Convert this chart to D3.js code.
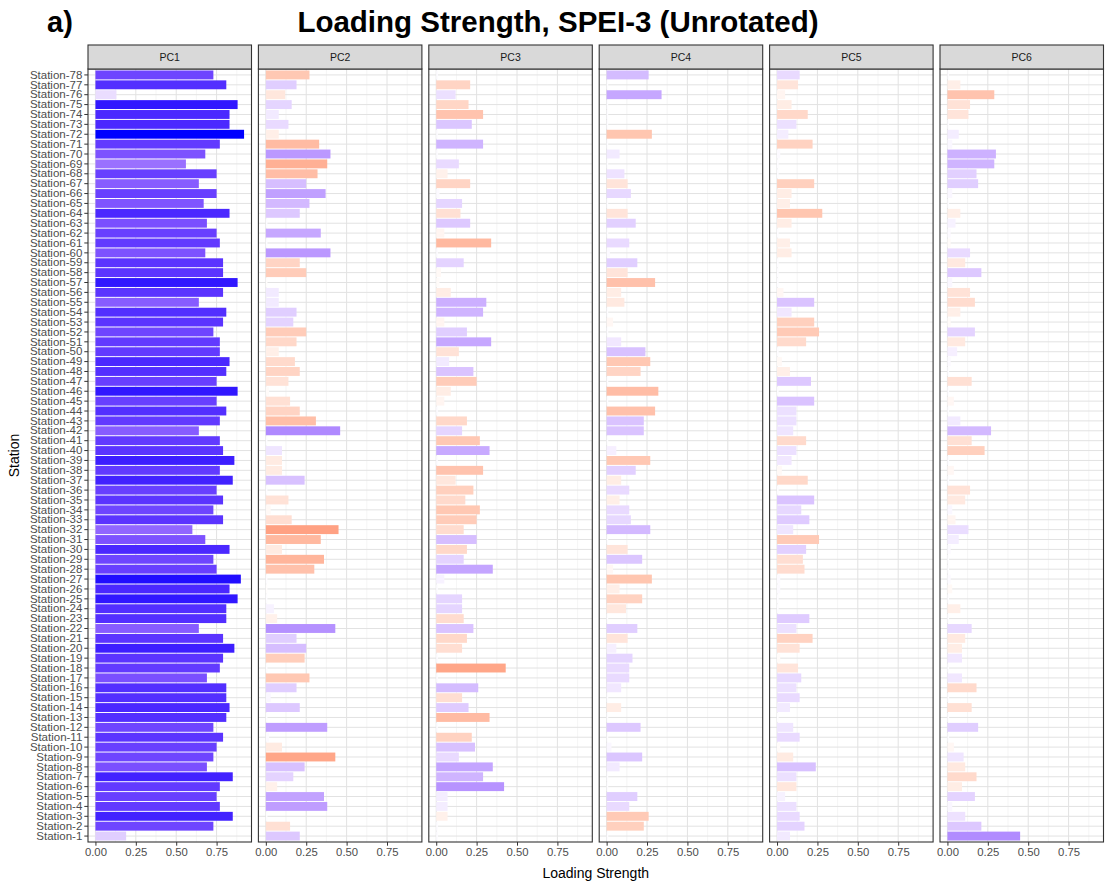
<!DOCTYPE html>
<html>
<head>
<meta charset="utf-8">
<script src="https://cdn.jsdelivr.net/npm/d3@7"></script>
<style>
  body { margin: 0; background: #fff; }
  svg { display: block; }
  text { font-family: "Liberation Sans", Arial, Helvetica, sans-serif; }
</style>
</head>
<body>
<svg id="chart" width="1107" height="885"></svg>
<script>
// Principal components shown as facets, left to right
const components = ["PC1", "PC2", "PC3", "PC4", "PC5", "PC6"];

// Station names, Station-1 ... Station-78
const stations = d3.range(1, 79).map(i => "Station-" + i);

// Signed loadings per component, ordered Station-1 ... Station-78
const pc1 = [0.19, 0.73, 0.85, 0.77, 0.75, 0.77, 0.85, 0.69, 0.73, 0.75,
             0.79, 0.73, 0.81, 0.83, 0.81, 0.81, 0.69, 0.77, 0.79, 0.86,
             0.79, 0.64, 0.81, 0.81, 0.88, 0.83, 0.90, 0.75, 0.73, 0.83,
             0.68, 0.60, 0.79, 0.73, 0.79, 0.75, 0.85, 0.77, 0.86, 0.79,
             0.77, 0.64, 0.77, 0.81, 0.75, 0.88, 0.75, 0.81, 0.83, 0.77,
             0.77, 0.73, 0.79, 0.81, 0.64, 0.79, 0.88, 0.79, 0.79, 0.68,
             0.77, 0.75, 0.69, 0.83, 0.67, 0.75, 0.64, 0.75, 0.56, 0.68,
             0.77, 0.92, 0.83, 0.83, 0.88, 0.13, 0.81, 0.73];

const pc2 = [0.21, -0.15, 0.01, 0.38, 0.36, -0.07, 0.17, 0.24, -0.43, -0.10,
             0.02, 0.38, 0.01, 0.21, 0.03, 0.19, -0.27, 0.01, -0.24, 0.25,
             0.19, 0.43, -0.07, 0.05, 0.01, -0.01, 0.01, -0.30, -0.36, -0.10,
             -0.34, -0.45, -0.16, -0.03, -0.14, 0.01, 0.24, -0.10, -0.10, 0.10,
             0.01, 0.46, -0.31, -0.21, -0.15, -0.02, -0.14, -0.21, -0.18, -0.08,
             -0.19, -0.25, 0.17, 0.19, 0.08, 0.08, -0.01, -0.25, -0.21, 0.40,
             0.01, 0.34, 0.01, 0.21, 0.27, 0.37, 0.25, -0.32, -0.38, 0.40,
             -0.33, -0.08, 0.14, 0.08, 0.16, -0.12, 0.19, -0.27];

const pc3 = [0.01, 0.01, -0.07, 0.07, 0.07, 0.42, 0.29, 0.35, 0.14, 0.24,
             -0.22, 0.01, -0.33, 0.20, -0.16, 0.26, 0.01, -0.43, 0.01, -0.16,
             -0.19, 0.23, -0.17, 0.16, 0.16, 0.01, 0.05, 0.35, 0.17, -0.19,
             0.25, -0.17, -0.25, -0.27, -0.18, -0.23, -0.12, -0.29, 0.01, 0.33,
             -0.27, 0.16, -0.19, 0.01, -0.05, -0.09, -0.25, 0.23, 0.08, -0.14,
             0.34, 0.19, -0.05, 0.29, 0.31, -0.09, -0.02, -0.03, 0.17, 0.01,
             -0.34, -0.05, 0.21, -0.15, 0.16, 0.02, -0.21, -0.07, 0.14, 0.01,
             0.29, 0.01, 0.22, -0.29, -0.20, 0.12, -0.21, 0.01];

const pc4 = [0.01, -0.23, -0.26, 0.14, 0.19, 0.01, 0.01, 0.08, 0.22, 0.03,
             0.01, 0.21, 0.01, -0.09, 0.01, 0.09, 0.14, 0.14, 0.16, 0.06,
             -0.13, 0.19, 0.01, -0.12, -0.22, -0.08, -0.28, -0.04, 0.22, -0.13,
             0.01, 0.27, 0.15, 0.14, -0.08, 0.14, -0.09, 0.18, -0.27, 0.06,
             0.01, 0.23, 0.23, -0.30, 0.01, -0.32, 0.01, -0.21, -0.27, 0.24,
             0.09, 0.01, -0.04, 0.01, -0.11, -0.09, -0.30, -0.13, 0.19, 0.02,
             0.14, 0.01, 0.18, -0.13, 0.01, 0.15, -0.13, 0.11, 0.01, 0.08,
             0.01, -0.28, 0.01, 0.01, 0.01, 0.34, 0.01, 0.26];

const pc5 = [0.08, 0.17, 0.14, 0.12, 0.05, -0.12, 0.12, 0.24, -0.10, -0.02,
             0.14, 0.10, 0.01, 0.08, 0.14, 0.12, 0.15, -0.13, -0.02, -0.14,
             -0.22, 0.12, 0.20, 0.01, 0.01, 0.02, 0.02, -0.17, -0.16, 0.18,
             -0.26, 0.10, 0.20, 0.15, 0.23, 0.01, -0.19, -0.03, 0.09, 0.12,
             -0.18, 0.10, 0.12, 0.12, 0.23, 0.01, 0.21, -0.08, -0.03, 0.01,
             -0.18, -0.26, -0.23, 0.09, 0.23, -0.04, 0.01, 0.01, 0.01, -0.09,
             -0.08, 0.01, -0.09, -0.28, -0.08, -0.09, -0.23, 0.01, 0.01, 0.02,
             -0.22, 0.07, 0.12, -0.19, -0.09, -0.05, -0.13, 0.14];

const pc6 = [0.45, 0.21, 0.11, 0.03, 0.17, -0.09, -0.18, -0.11, 0.10, -0.04,
             0.01, 0.19, 0.01, -0.15, 0.01, -0.18, 0.09, 0.01, 0.09, -0.09,
             -0.11, 0.15, 0.01, -0.08, 0.01, -0.03, 0.02, 0.01, 0.01, 0.02,
             0.07, 0.13, -0.05, 0.03, -0.11, -0.14, 0.01, -0.04, 0.01, -0.23,
             -0.15, 0.27, 0.08, 0.01, -0.04, 0.01, -0.15, 0.01, 0.02, 0.06,
             -0.11, 0.17, -0.02, -0.08, -0.17, -0.14, 0.03, 0.21, -0.11, 0.14,
             -0.02, 0.02, 0.05, -0.08, 0.01, 0.03, 0.19, 0.18, 0.29, 0.30,
             0.03, 0.07, 0.01, -0.13, -0.14, -0.29, -0.08, 0.01];

// Axis tick values
const xTicks = [0, 0.25, 0.5, 0.75];
const xMinorTicks = [0.125, 0.375, 0.625, 0.875];

const loadings = [pc1, pc2, pc3, pc4, pc5, pc6];

// ---- layout ----
const svg = d3.select("#chart");
const plot = { left: 88, right: 1103.5, top: 69, bottom: 842, stripTop: 45 };
const gap = 6.9;
const panelW = (plot.right - plot.left - gap * 5) / components.length;

const maxAbs = d3.max(loadings.flat(), v => Math.abs(v));

// Shared x scale, padded 5% on both sides of [0, max]
const x = d3.scaleLinear()
  .domain([-0.05 * maxAbs, 1.05 * maxAbs])
  .range([0, panelW]);

// Station-78 at top, Station-1 at bottom
const y = d3.scaleBand()
  .domain(stations.slice().reverse())
  .range([plot.top, plot.bottom])
  .paddingInner(0.1)
  .paddingOuter(0.15);

// Diverging fill: red (negative) - white - blue (positive), interpolated in Lab
const toBlue = d3.interpolateLab("#ffffff", "#0000ff");
const toRed = d3.interpolateLab("#ffffff", "#ff0000");
const fill = v => v >= 0 ? toBlue(v / maxAbs) : toRed(-v / maxAbs);

const gridMajor = "#e2e2e2";
const gridMinor = "#eeeeee";
const frame = "#333333";
const tickText = "#4d4d4d";

components.forEach((name, ci) => {
  const px = plot.left + ci * (panelW + gap);
  const g = svg.append("g").attr("transform", `translate(${px},0)`);

  g.append("rect")
    .attr("x", 0).attr("y", plot.top)
    .attr("width", panelW).attr("height", plot.bottom - plot.top)
    .attr("fill", "#fff");

  // minor vertical grid
  g.selectAll(".vminor").data(xMinorTicks).join("line")
    .attr("x1", d => x(d)).attr("x2", d => x(d))
    .attr("y1", plot.top).attr("y2", plot.bottom)
    .attr("stroke", gridMinor).attr("stroke-width", 0.6);

  // major vertical grid
  g.selectAll(".vmajor").data(xTicks).join("line")
    .attr("x1", d => x(d)).attr("x2", d => x(d))
    .attr("y1", plot.top).attr("y2", plot.bottom)
    .attr("stroke", gridMajor).attr("stroke-width", 1);

  // horizontal grid at each station
  g.selectAll(".hgrid").data(stations).join("line")
    .attr("x1", 0).attr("x2", panelW)
    .attr("y1", d => y(d) + y.bandwidth() / 2)
    .attr("y2", d => y(d) + y.bandwidth() / 2)
    .attr("stroke", gridMajor).attr("stroke-width", 1);

  // bars: length = |loading|, colour = signed loading
  const rows = stations.map((s, i) => ({ station: s, value: loadings[ci][i] }));
  g.selectAll(".bar").data(rows).join("rect")
    .attr("x", x(0))
    .attr("y", d => y(d.station))
    .attr("width", d => x(Math.abs(d.value)) - x(0))
    .attr("height", y.bandwidth())
    .attr("fill", d => fill(d.value));

  // panel frame
  g.append("rect")
    .attr("x", 0).attr("y", plot.top)
    .attr("width", panelW).attr("height", plot.bottom - plot.top)
    .attr("fill", "none").attr("stroke", frame).attr("stroke-width", 1.1);

  // facet strip
  g.append("rect")
    .attr("x", 0).attr("y", plot.stripTop)
    .attr("width", panelW).attr("height", plot.top - plot.stripTop)
    .attr("fill", "#d9d9d9").attr("stroke", frame).attr("stroke-width", 1.1);
  g.append("text")
    .attr("x", panelW / 2).attr("y", (plot.stripTop + plot.top) / 2)
    .attr("dy", "0.35em").attr("text-anchor", "middle")
    .attr("font-size", 10.5).attr("fill", "#1a1a1a")
    .text(name);

  // x axis
  const xa = g.append("g")
    .attr("transform", `translate(0,${plot.bottom})`)
    .call(d3.axisBottom(x).tickValues(xTicks).tickFormat(d3.format(".2f")).tickSize(3.7).tickPadding(2.5));
  xa.select(".domain").remove();
  xa.selectAll("line").attr("stroke", frame);
  xa.selectAll("text").attr("font-size", 11.3).attr("fill", tickText)
    .attr("font-family", '"Liberation Sans", Arial, sans-serif');
});

// y axis on the first panel
const ya = svg.append("g")
  .attr("transform", `translate(${plot.left},0)`)
  .call(d3.axisLeft(y).tickSize(3.7).tickPadding(2));
ya.select(".domain").remove();
ya.selectAll("line").attr("stroke", frame);
ya.selectAll("text").attr("font-size", 11.5).attr("fill", tickText)
  .attr("font-family", '"Liberation Sans", Arial, sans-serif');

// axis titles
svg.append("text")
  .attr("x", (plot.left + plot.right) / 2).attr("y", 878)
  .attr("text-anchor", "middle").attr("font-size", 14).attr("fill", "#000")
  .text("Loading Strength");
svg.append("text")
  .attr("transform", `translate(19,${(plot.top + plot.bottom) / 2}) rotate(-90)`)
  .attr("text-anchor", "middle").attr("font-size", 14).attr("fill", "#000")
  .text("Station");

// titles
svg.append("text")
  .attr("x", 47).attr("y", 32)
  .attr("font-size", 29).attr("font-weight", "bold").attr("fill", "#000")
  .text("a)");
svg.append("text")
  .attr("x", 558).attr("y", 32)
  .attr("text-anchor", "middle")
  .attr("font-size", 29.5).attr("font-weight", "bold").attr("fill", "#000")
  .text("Loading Strength, SPEI-3 (Unrotated)");
</script>
</body>
</html>
